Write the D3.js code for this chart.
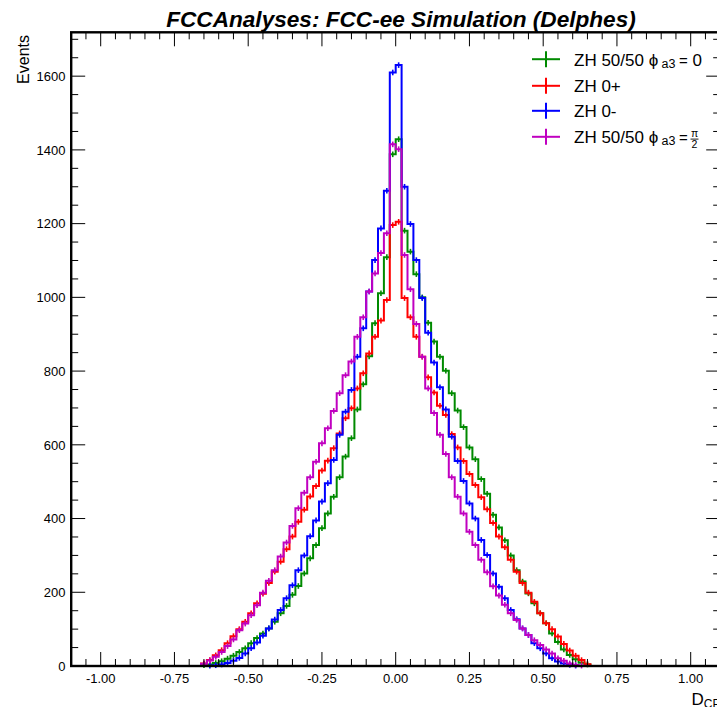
<!DOCTYPE html>
<html>
<head>
<meta charset="utf-8">
<script src="https://cdn.jsdelivr.net/npm/d3@7"></script>
<style>
  body { margin: 0; background: #fff; }
  svg { display: block; }
  text { font-family: "Liberation Sans", Arial, Helvetica, sans-serif; fill: #000; }
</style>
</head>
<body>
<svg id="chart" width="717" height="707"></svg>
<script>
// Histogram binning: 100 bins of width 0.02 over [-1, 1]; contents listed from the bin at -0.70
const histRange = [-1, 1];
const binWidth = 0.02;
const firstListedBin = -0.70;

const seriesLabels = ["ZH 50/50", "ZH 0+", "ZH 0-", "ZH 50/50"];

// ZH 50/50, phi_a3 = 0
const zhMixPhi0 = [
  0, 0, 2, 4, 8, 13, 20, 28, 38, 48,
  62, 76, 88, 102, 120, 143, 163, 193, 217, 251,
  292, 328, 374, 414, 459, 512, 568, 618, 696, 764,
  840, 930, 1011, 1109, 1388,
  1429, 1181, 1124, 1063, 1000, 931, 880, 839, 801, 740,
  693, 648, 593, 561, 507, 467, 410, 376, 341, 300,
  260, 229, 197, 170, 143, 116, 88, 65, 45, 30,
  18, 9, 4, 0, 0
];
// ZH 0+
const zhEven = [
  0, 0, 7, 16, 29, 43, 62, 81, 100, 120,
  143, 170, 196, 225, 256, 283, 317, 351, 391, 424,
  460, 488, 530, 557, 591, 631, 672, 699, 753, 794,
  848, 893, 937, 993, 1196,
  1205, 998, 946, 893, 839, 783, 742, 706, 681, 629,
  593, 556, 521, 491, 458, 425, 388, 351, 322, 288,
  256, 225, 199, 174, 143, 116, 100, 80, 60, 42,
  28, 16, 5, 0, 0
];
// ZH 0-
const zhOdd = [
  0, 0, 0, 1, 2, 4, 8, 14, 22, 34,
  48, 64, 82, 102, 126, 152, 184, 219, 260, 300,
  352, 395, 446, 496, 559, 627, 690, 749, 839, 916,
  1016, 1101, 1187, 1289, 1610,
  1630, 1300, 1199, 1101, 998, 904, 823, 756, 696, 622,
  556, 502, 441, 400, 342, 301, 251, 215, 184, 152,
  127, 102, 84, 62, 48, 34, 21, 12, 7, 3,
  1, 0, 0, 0, 0
];
// ZH 50/50, phi_a3 = pi/2
const zhMixPhiHalfPi = [
  0, 0, 6, 15, 25, 38, 54, 72, 97, 115,
  138, 165, 199, 231, 260, 297, 335, 380, 428, 470,
  512, 554, 604, 645, 692, 740, 789, 826, 893, 946,
  1016, 1065, 1120, 1174, 1415,
  1402, 1115, 1022, 928, 839, 753, 686, 627, 575, 512,
  459, 414, 364, 328, 288, 254, 216, 191, 166, 143,
  125, 102, 84, 70, 57, 45, 34, 21, 14, 7,
  3, 1, 0, 0, 0
];

const seriesColors = ["#008a00", "#ff0000", "#0000ff", "#c000c0"];

const xTickLabels = ["-1.00", "-0.75", "-0.50", "-0.25", "0.00", "0.25", "0.50", "0.75", "1.00"];
const yTickLabels = ["0", "200", "400", "600", "800", "1000", "1200", "1400", "1600"];

// ---------------------------------------------------------------------------
const svg = d3.select("#chart");
const frame = { left: 71.2, right: 720.2, top: 32.3, bottom: 666 };

const x = d3.scaleLinear().domain([-1.1, 1.1]).range([frame.left, frame.right]);
const y = d3.scaleLinear().domain([0, 1719]).range([frame.bottom, frame.top]);

// expand a listed series into the full set of bins over histRange
const nBins = Math.round((histRange[1] - histRange[0]) / binWidth);
const offset = Math.round((firstListedBin - histRange[0]) / binWidth);
function fullBins(vals) {
  const out = [];
  for (let i = 0; i < nBins; i++) {
    const k = i - offset;
    out.push({
      lo: histRange[0] + i * binWidth,
      hi: histRange[0] + (i + 1) * binWidth,
      v: (k >= 0 && k < vals.length) ? vals[k] : 0
    });
  }
  return out;
}

const allSeries = [zhMixPhi0, zhEven, zhOdd, zhMixPhiHalfPi].map(fullBins);

const plot = svg.append("g");

allSeries.forEach((bins, si) => {
  const col = seriesColors[si];
  // step outline
  let d = `M${x(bins[0].lo)},${y(bins[0].v)}`;
  bins.forEach((b, i) => {
    d += `H${x(b.hi)}`;
    if (i < bins.length - 1) d += `V${y(bins[i + 1].v)}`;
  });
  plot.append("path")
    .attr("d", d)
    .attr("fill", "none")
    .attr("stroke", col)
    .attr("stroke-width", 2);

  // bin markers (cross at each filled bin)
  const filled = bins.filter(b => b.v > 0);
  plot.append("g").selectAll("line.v")
    .data(filled).join("line")
    .attr("x1", b => x((b.lo + b.hi) / 2))
    .attr("x2", b => x((b.lo + b.hi) / 2))
    .attr("y1", b => y(b.v) - 2.8)
    .attr("y2", b => y(b.v) + 2.8)
    .attr("stroke", col)
    .attr("stroke-width", 1.6);
});

// ---------------------------------------------------------------------------
// frame and axes
const axes = svg.append("g");
const tickCol = "#000";

const xMajor = xTickLabels.map(Number);
const xMinor = d3.range(-22, 23).map(k => k * 0.05).filter(v => v > -1.1 && v < 1.1);
const yMajor = yTickLabels.map(Number);
const yMinor = d3.range(0, 1719, 50);

// bottom axis ticks (pointing up) and top axis ticks (pointing down)
xMinor.forEach(v => {
  const isMajor = xMajor.some(m => Math.abs(m - v) < 1e-9);
  const len = isMajor ? 14 : 7;
  axes.append("line").attr("x1", x(v)).attr("x2", x(v))
    .attr("y1", frame.bottom).attr("y2", frame.bottom - len)
    .attr("stroke", tickCol).attr("stroke-width", 1);
  axes.append("line").attr("x1", x(v)).attr("x2", x(v))
    .attr("y1", frame.top).attr("y2", frame.top + len)
    .attr("stroke", tickCol).attr("stroke-width", 1);
});

// left axis ticks (pointing right) and right axis ticks (pointing left)
yMinor.forEach(v => {
  const isMajor = v % 200 === 0;
  const len = isMajor ? 14 : 7;
  axes.append("line").attr("x1", frame.left).attr("x2", frame.left + len)
    .attr("y1", y(v)).attr("y2", y(v))
    .attr("stroke", tickCol).attr("stroke-width", 1);
  axes.append("line").attr("x1", frame.right).attr("x2", frame.right - len)
    .attr("y1", y(v)).attr("y2", y(v))
    .attr("stroke", tickCol).attr("stroke-width", 1);
});

axes.append("rect")
  .attr("x", frame.left).attr("y", frame.top)
  .attr("width", frame.right - frame.left)
  .attr("height", frame.bottom - frame.top)
  .attr("fill", "none").attr("stroke", "#000").attr("stroke-width", 2.4);

// tick labels
axes.append("g").selectAll("text")
  .data(xTickLabels).join("text")
  .attr("x", t => x(+t))
  .attr("y", 683)
  .attr("text-anchor", "middle")
  .style("font-size", "13px")
  .text(t => t);

axes.append("g").selectAll("text")
  .data(yTickLabels).join("text")
  .attr("x", 65.5)
  .attr("y", t => y(+t) + 4.7)
  .attr("text-anchor", "end")
  .style("font-size", "13px")
  .text(t => t);

// axis titles
svg.append("text")
  .attr("transform", "translate(28.5,35) rotate(-90)")
  .attr("text-anchor", "end")
  .style("font-size", "16px")
  .text("Events");

const xt = svg.append("text").attr("x", 691.5).attr("y", 705).style("font-size", "17px");
xt.append("tspan").text("D");
xt.append("tspan").attr("dy", 3).style("font-size", "12px").text("CP");

// title
svg.append("text")
  .attr("x", 401).attr("y", 26.5)
  .attr("text-anchor", "middle")
  .style("font-size", "22.6px")
  .style("font-weight", "bold")
  .style("font-style", "italic")
  .text("FCCAnalyses: FCC-ee Simulation (Delphes)");

// ---------------------------------------------------------------------------
// legend
const legend = svg.append("g");
const rowBase = [65.7, 92.3, 117.3, 143.3];
seriesLabels.forEach((lab, i) => {
  const col = seriesColors[i];
  const cy = rowBase[i] - 6.5;
  legend.append("line").attr("x1", 532).attr("x2", 560).attr("y1", cy).attr("y2", cy)
    .attr("stroke", col).attr("stroke-width", 2);
  legend.append("line").attr("x1", 546).attr("x2", 546).attr("y1", cy - 8).attr("y2", cy + 8)
    .attr("stroke", col).attr("stroke-width", 2);

  const isMix = (i === 0 || i === 3);
  legend.append("text").attr("x", 574).attr("y", rowBase[i])
    .style("font-size", "17px")
    .text(isMix ? lab + " \u03D5" : lab);
  if (isMix) {
    legend.append("text").attr("x", 661.5).attr("y", rowBase[i] + 2)
      .style("font-size", "12.5px").text("a3");
    legend.append("text").attr("x", 679).attr("y", rowBase[i])
      .style("font-size", "15px").text("=");
  }
});
// phase values
legend.append("text").attr("x", 692.5).attr("y", rowBase[0])
  .style("font-size", "17px").text("0");
legend.append("text").attr("x", 694.5).attr("y", rowBase[3] - 6.4)
  .attr("text-anchor", "middle").style("font-size", "10.5px").text("\u03C0");
legend.append("line").attr("x1", 690.5).attr("x2", 698.5)
  .attr("y1", rowBase[3] - 4.2).attr("y2", rowBase[3] - 4.2)
  .attr("stroke", "#000").attr("stroke-width", 0.9);
legend.append("text").attr("x", 694.5).attr("y", rowBase[3] + 4.6)
  .attr("text-anchor", "middle").style("font-size", "10.5px").text("2");
</script>
</body>
</html>
